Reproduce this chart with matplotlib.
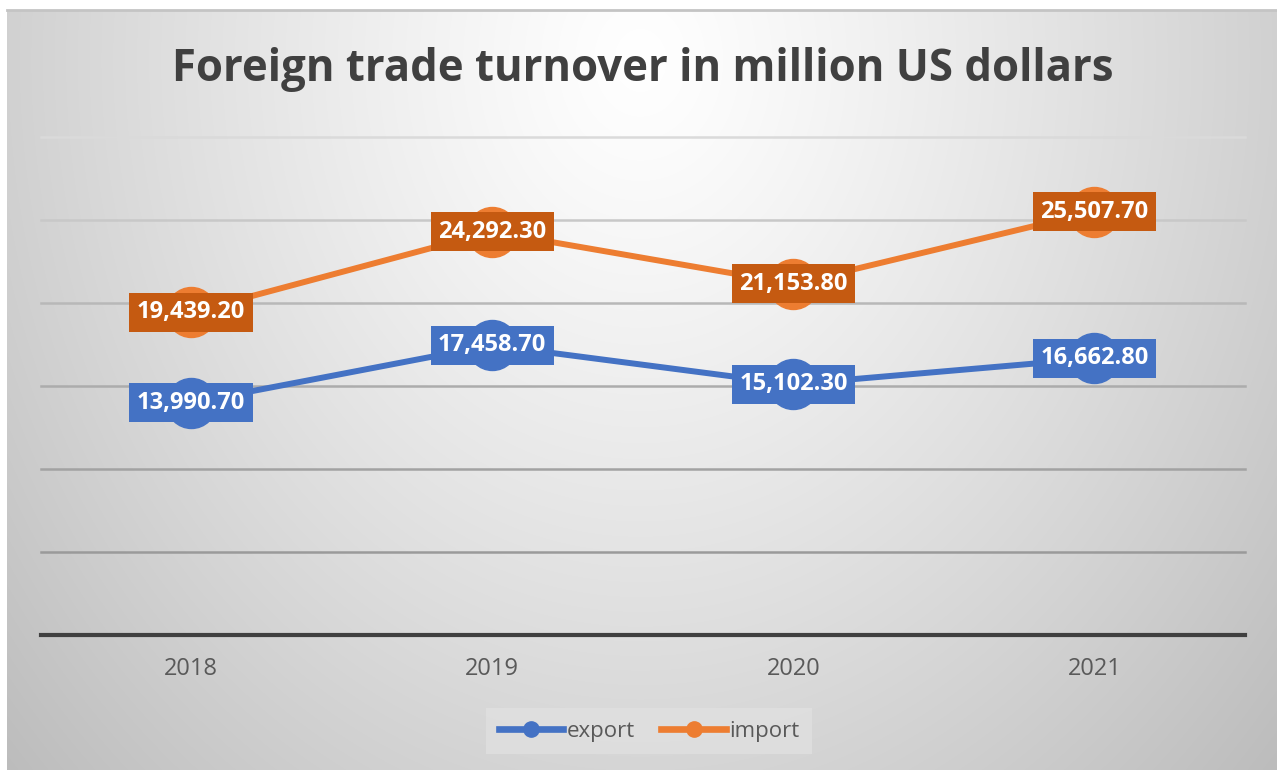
import numpy as np
import matplotlib
matplotlib.use('Agg')
import matplotlib.pyplot as plt

years = ['2018', '2019', '2020', '2021']
export = [13990.7, 17458.7, 15102.3, 16662.8]
imports = [19439.2, 24292.3, 21153.8, 25507.7]
grid_levels = [5000, 10000, 15000, 20000, 25000, 30000]
grid_colors = ['#9a9a9a', '#a2a2a2', '#acacac', '#b8b8b8', '#c8c8c8', '#dadada']

BLUE = '#4472C4'
ORANGE = '#ED7D31'
ORANGE_DARK = '#C55A11'

plt.rcParams['font.family'] = ['Open Sans', 'DejaVu Sans']

W, H = 1277, 772
fig = plt.figure(figsize=(W / 100, H / 100), dpi=100)

# gradient background of the chart area
bg = fig.add_axes([7 / W, 2 / H, (W - 7) / W, (770 - 10) / H])
bg.set_axis_off()
yy, xx = np.mgrid[10:770, 7:W]
d = np.sqrt(((xx - 640) / 660.0) ** 2 + ((yy - 60) / 800.0) ** 2)
val = 1 - 0.19 * np.clip(d, 0, 1.3) ** 1.2
bg.imshow(np.dstack([val, val, val]), aspect='auto', extent=(0, 1, 0, 1), zorder=0)
# top border line
fig.add_artist(plt.Line2D([7 / W, 1], [1 - 10 / H, 1 - 10 / H], color='#c4c4c4', lw=2))

ax = fig.add_axes([40.5 / W, 1 - 635 / H, (1245 - 40.5) / W, (635 - 137) / H])
ax.set_facecolor('none')
ax.set_xlim(-0.5, 3.5)
ax.set_ylim(0, 30000)
for s in ['top', 'right', 'left']:
    ax.spines[s].set_visible(False)
ax.spines['bottom'].set_color('#404040')
ax.spines['bottom'].set_linewidth(3)
ax.spines['bottom'].set_zorder(1)
ax.set_yticks([])
x = np.arange(len(years))
ax.set_xticks(x)
ax.set_xticklabels(years)
ax.tick_params(axis='x', length=0, pad=16, labelsize=17, labelcolor='#595959')

for lvl, c in zip(grid_levels, grid_colors):
    ax.axhline(lvl, color=c, lw=1.8, zorder=1, clip_on=False)

ax.plot(x, export, color=BLUE, lw=4.3, marker='o', ms=36, zorder=3, label='export')
ax.plot(x, imports, color=ORANGE, lw=4.3, marker='o', ms=36, zorder=3, label='import')

for xi, v in zip(x, export):
    ax.text(xi, v, f'{v:,.2f}', ha='center', va='center', color='white', fontsize=17,
            fontweight='bold', zorder=5,
            bbox=dict(boxstyle='square,pad=0.32', fc=BLUE, ec='none'))
for xi, v in zip(x, imports):
    ax.text(xi, v, f'{v:,.2f}', ha='center', va='center', color='white', fontsize=17,
            fontweight='bold', zorder=5,
            bbox=dict(boxstyle='square,pad=0.32', fc=ORANGE_DARK, ec='none'))

fig.text(643 / W, 1 - 70 / H, 'Foreign trade turnover in million US dollars', ha='center',
         va='center', fontsize=31.5, fontweight='bold', color='#404040')

h1, = ax.plot([], [], color=BLUE, lw=4.8, marker='o', ms=11)
h2, = ax.plot([], [], color=ORANGE, lw=4.8, marker='o', ms=11)
leg = fig.legend([h1, h2], ['export', 'import'], loc='center', ncol=2,
                 bbox_to_anchor=(649 / W, 1 - 731 / H), fontsize=16, frameon=True,
                 handlelength=2.9, handletextpad=0.15, columnspacing=1.2,
                 fancybox=False, borderpad=0.55)
leg.get_frame().set_facecolor('#e0e0e0')
leg.get_frame().set_edgecolor('none')
for t in leg.get_texts():
    t.set_color('#595959')

fig.savefig('out.png', dpi=100)
